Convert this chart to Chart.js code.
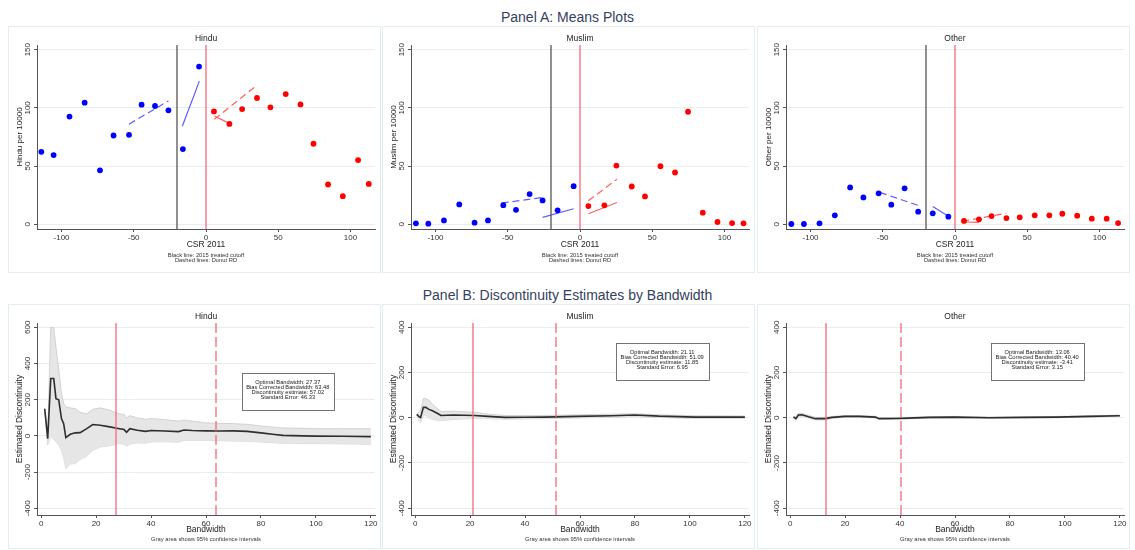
<!DOCTYPE html>
<html><head><meta charset="utf-8">
<script src="https://cdn.jsdelivr.net/npm/chart.js@4.4.1/dist/chart.umd.min.js"></script>
<style>
body{margin:0;background:#fff;width:1135px;height:550px;position:relative;overflow:hidden;font-family:"Liberation Sans",Arial,Helvetica,sans-serif;}
.ptitle{position:absolute;left:0;width:1135px;text-align:center;font-size:14px;line-height:16px;color:#34415e;}
.box{position:absolute;border:1px solid #e4edef;box-sizing:border-box;}
canvas{position:absolute;}
</style></head><body>
<div class="ptitle" style="top:9px">Panel A: Means Plots</div>
<div class="ptitle" style="top:287px">Panel B: Discontinuity Estimates by Bandwidth</div>
<div id="wrap"></div>
<script>
// ---------- DATA ----------
const groups = ['Hindu', 'Muslim', 'Other'];
const meansTicksX = [-100, -50, 0, 50, 100];
const meansTicksY = [0, 50, 100, 150];
const bwTicksX = [0, 20, 40, 60, 80, 100, 120];
const hinduBwTicksY = [-400, -200, 0, 200, 400, 600];
const otherBwTicksY = [-400, -200, 0, 200, 400];
const cutoffs2015 = [-20];
const cutoffs2011 = [0];

// Panel A: binned means (left of cutoff = blue, right = red)
const hinduBinsL  = [-114, -105.5, -94.5, -84, -73.4, -64, -53.3, -44.6, -35.3, -26, -16, -4.8];
const hinduMeansL = [62.3, 59.5, 92.5, 104.5, 46.4, 76.3, 76.9, 102.8, 101.6, 97.9, 64.6, 135.5];
const hinduBinsR  = [5.5, 16.2, 25, 35.3, 44.6, 55.2, 65.4, 74.4, 84.5, 94.7, 105.3, 112.7];
const hinduMeansR = [97, 86.2, 99, 108.5, 100.5, 111.9, 103, 69.2, 34.2, 24.2, 55.2, 34.7];

const muslimBinsL  = [-113.6, -105, -94.2, -83.6, -73, -63.7, -53.1, -44.3, -34.9, -25.9, -15.5, -4.4];
const muslimMeansL = [0.9, 0.6, 3.4, 17.1, 1.4, 3.4, 16.5, 12.5, 26, 20.5, 12, 32.8];
const muslimBinsR  = [5.8, 16.9, 25.2, 35.8, 45, 55.7, 65.8, 74.8, 85, 95.2, 105.3, 113.2];
const muslimMeansR = [15.7, 16.3, 50.5, 32.5, 24, 49.9, 44.5, 96.7, 10, 2, 1.1, 0.9];

const otherBinsL  = [-113.3, -104.6, -93.8, -83.2, -72.6, -63.4, -52.9, -44.1, -34.9, -25.5, -15.4, -4.6];
const otherMeansL = [0.3, 0.3, 0.9, 7.7, 31.7, 23.1, 26.6, 16.9, 30.9, 10.9, 9.5, 6.6];
const otherBinsR  = [6.2, 16.6, 25.3, 35.6, 44.8, 55.2, 65.3, 74.3, 84.6, 94.7, 105, 112.9];
const otherMeansR = [2.9, 4.3, 7.1, 5.4, 6, 7.7, 7.7, 9.1, 7.4, 4.9, 4.9, 1.1];

// Panel A fitted lines: [blue dashed (donut), blue solid, red solid, red dashed (donut)]
const hinduFitX  = [[-53.3, -26], [-16.4, -4.6], [5.8, 16.5], [5.8, 35.3]];
const hinduFitY  = [[86, 106], [84.3, 123], [93, 86.5], [90.2, 119.5]];
const muslimFitX = [[-54.3, -25.9], [-25.9, -4.4], [5.8, 25.6], [5.8, 25.6]];
const muslimFitY = [[18.2, 23.1], [6, 13.4], [9.1, 18.8], [20.2, 38.8]];
const otherFitX  = [[-52, -25.5], [-15.4, -4.6], [6.2, 16.6], [5, 35.4]];
const otherFitY  = [[27.4, 16.3], [15.4, 6.9], [2, 1.7], [2.6, 9.4]];

// Panel B: estimates by bandwidth with 95% CI
const hinduBw  = [1.3, 2.4, 3.5, 4.6, 5.4, 6.4, 7.4, 8.2, 9.0, 10.6, 12.4, 14.2, 16.6, 18.8, 21.5, 25, 28, 30.2, 31.1, 32.3, 35, 38, 40, 45, 50, 52, 55, 60, 65, 70, 75, 80, 85, 88, 95, 100, 110, 120];
const hinduEst = [150, -15, 317, 317, 206, 200, 96, 68, -9, 9, 17, 18, 40, 63, 59, 50, 41, 35, 20, 40, 31, 25, 30, 27, 24, 33, 30, 28, 27, 28, 25, 17, 8, 3, 0, -1, -2, -4];
const hinduHi  = [150, 20, 600, 600, 490, 372, 234, 180, 160, 155, 151, 130, 123, 147, 155, 142, 124, 118, 100, 112, 100, 92, 96, 90, 82, 88, 82, 72, 70, 68, 64, 55, 48, 44, 42, 40, 40, 40];
const hinduLo  = [150, -50, 0, -20, -30, -50, -80, -120, -180, -155, -153, -130, -112, -80, -61, -55, -42, -46, -57, -45, -38, -40, -33, -32, -35, -24, -24, -24, -26, -28, -30, -33, -38, -40, -42, -42, -44, -46];

const muslimBw  = [0.6, 1.5, 2, 3, 3.9, 5, 6.3, 8.2, 9.4, 14, 21.6, 26.5, 32.6, 40, 47, 59, 71.6, 80, 88.7, 102, 120];
const muslimEst = [15, 4, 1, 46, 46, 37, 31, 19, 10, 12, 10, 6, 1.5, 2, 3, 6, 9, 12, 7, 3, 3];
const muslimHi  = [15, 25, 30, 85, 85, 78, 60, 40, 28, 29, 24, 16, 10, 10, 10, 13, 16, 18, 13, 9, 8];
const muslimLo  = [15, -15, -20, 10, 12, 0, -8, -12, -13, -7, -3, -4, -6, -5, -4, -1, 2, 6, 1, -3, -2];

const otherBw  = [1.2, 2.1, 3, 4.3, 6.7, 9.2, 12.8, 15.3, 20, 25, 31, 32.4, 38.5, 43, 50.7, 60, 72.6, 85, 97, 109, 120];
const otherEst = [4, -4, 12, 13, 4, -4, -4, 1.5, 6, 6, 3, -4, -3, -1.5, 1.5, 3, 0, 1.5, 3, 6, 9];
const otherHi  = [4, 4, 20, 20, 10, 2, 2, 6, 10, 10, 7, 0, 1, 2, 5, 6, 3, 4, 6, 9, 12];
const otherLo  = [4, -12, 4, 6, -2, -10, -10, -3, 2, 2, -1, -8, -7, -5, -2, 0, -3, -1, 0, 3, 6];

// RD statistics: [optimal bw, bias corrected bw, estimate, s.e.]
const hinduRD  = [27.37, 63.48, 57.02, 46.33];
const muslimRD = [21.11, 51.09, 11.85, 6.95];
const otherRD  = [13.06, 40.40, -3.41, 3.15];

// ---------- RENDERING ----------
const FONT = "'Liberation Sans', Arial, Helvetica, sans-serif";
Chart.defaults.font.family = FONT;
Chart.defaults.color = '#333';
const RED_LINE = '#f5687a';
const AXIS = '#555';

const colLeft = [8, 382, 757];
const COLW = 373;
const rows = [{top: 26, h: 247, xH: 44}, {top: 304, h: 245, xH: 34}];

const pts = (xs, ys) => xs.map((x, i) => ({x, y: ys[i]}));

function makeCanvas(col, row) {
  const r = rows[row];
  const box = document.createElement('div');
  box.className = 'box';
  box.style.left = colLeft[col] + 'px'; box.style.top = r.top + 'px';
  box.style.width = COLW + 'px'; box.style.height = r.h + 'px';
  document.body.appendChild(box);
  const c = document.createElement('canvas');
  c.width = COLW; c.height = r.h;
  c.style.left = colLeft[col] + 'px'; c.style.top = r.top + 'px';
  c.style.width = COLW + 'px'; c.style.height = r.h + 'px';
  document.body.appendChild(c);
  return c;
}

function decorPlugin(cfg) {
  return {
    id: 'decor',
    afterDatasetsDraw(chart) {
      const {ctx, chartArea: ca, scales: {x}} = chart;
      cfg.vlines.forEach(v => {
        const px = Math.round(x.getPixelForValue(v.x));
        ctx.save();
        ctx.strokeStyle = v.color; ctx.lineWidth = v.w || 1.3;
        ctx.setLineDash(v.dash || []);
        ctx.beginPath(); ctx.moveTo(px, ca.top); ctx.lineTo(px, ca.bottom); ctx.stroke();
        ctx.restore();
      });
    },
    afterDraw(chart) {
      const {ctx, chartArea: ca, scales: {x, y}} = chart;
      ctx.save();
      // subplot title
      ctx.fillStyle = '#222'; ctx.textAlign = 'center'; ctx.textBaseline = 'middle';
      ctx.font = '8.5px ' + FONT;
      ctx.fillText(cfg.title, (ca.left + ca.right) / 2, 13);
      // rotated y tick labels (Stata style)
      ctx.font = '8px ' + FONT; ctx.fillStyle = '#333';
      y.ticks.forEach(t => {
        const py = y.getPixelForValue(t.value);
        ctx.save(); ctx.translate(ca.left - 9, py); ctx.rotate(-Math.PI / 2);
        ctx.fillText(String(t.value), 0, 0); ctx.restore();
      });
      // notes
      ctx.font = '5.8px ' + FONT; ctx.fillStyle = '#333';
      cfg.notes.forEach((n, i) => ctx.fillText(n, (ca.left + ca.right) / 2, cfg.noteY[i]));
      // statistics box
      if (cfg.box) {
        const b = cfg.box;
        const l = x.getPixelForValue(b.x0), r = x.getPixelForValue(b.x1);
        const t = y.getPixelForValue(b.y0), btm = y.getPixelForValue(b.y1);
        ctx.fillStyle = '#fff'; ctx.fillRect(l, t, r - l, btm - t);
        ctx.strokeStyle = '#666'; ctx.lineWidth = 0.9;
        ctx.strokeRect(Math.round(l) + 0.5, Math.round(t) + 0.5, Math.round(r - l), Math.round(btm - t));
        ctx.fillStyle = '#222'; ctx.font = '5.7px ' + FONT;
        b.lines.forEach((s, i) => ctx.fillText(s, (l + r) / 2, t + 10 + i * 4.9));
      }
      ctx.restore();
    }
  };
}

function scales(o) {
  return {
    x: {
      type: 'linear', min: o.xMin, max: o.xMax,
      afterBuildTicks: s => { s.ticks = o.xTicks.map(v => ({value: v})); },
      afterFit: s => { s.height = o.xH; },
      ticks: {font: {size: 8}, color: '#333', padding: 1, maxRotation: 0, autoSkip: false},
      grid: {drawOnChartArea: false, drawTicks: true, tickLength: 3, tickColor: AXIS, color: AXIS},
      border: {display: true, color: AXIS, width: 1},
      title: {display: true, text: o.xTitle, font: {size: 8.5}, color: '#222', padding: {top: 0, bottom: o.xTitlePad}}
    },
    y: {
      type: 'linear', min: o.yMin, max: o.yMax,
      afterBuildTicks: s => { s.ticks = o.yTicks.map(v => ({value: v})); },
      afterFit: s => { s.width = 29; },
      ticks: {display: false},
      grid: {color: '#e5eef0', lineWidth: 1, drawTicks: true, tickLength: 3, tickColor: AXIS},
      border: {display: true, color: AXIS, width: 1},
      title: {display: true, text: o.yTitle, font: {size: 8}, color: '#222', padding: {top: 7, bottom: 0}}
    }
  };
}

function baseOptions(sc) {
  return {
    responsive: false, animation: false, devicePixelRatio: 1,
    layout: {padding: {left: 0, right: 6, top: 19, bottom: 0}},
    plugins: {legend: {display: false}, tooltip: {enabled: false}, title: {display: false}},
    scales: sc
  };
}

function meansChart(col, name, bL, mL, bR, mR, fx, fy) {
  const c = makeCanvas(col, 0);
  const fitStyle = [
    {c: '#5c5cff', d: [7, 4]}, {c: '#5c5cff', d: []},
    {c: '#ff5f5f', d: []}, {c: '#ff5f5f', d: [7, 4]}
  ];
  const ds = [
    {data: pts(bL, mL), backgroundColor: '#0000ff', borderColor: '#0000ff', pointRadius: 2.9, pointBorderWidth: 0, showLine: false},
    {data: pts(bR, mR), backgroundColor: '#ff0000', borderColor: '#ff0000', pointRadius: 2.9, pointBorderWidth: 0, showLine: false}
  ];
  fx.forEach((xs, i) => ds.push({
    data: pts(xs, fy[i]), showLine: true, pointRadius: 0, borderColor: fitStyle[i].c,
    borderDash: fitStyle[i].d, borderWidth: 1.2, fill: false
  }));
  new Chart(c, {
    type: 'scatter',
    data: {datasets: ds},
    options: baseOptions(scales({xMin: -117, xMax: 117, xTicks: meansTicksX, xH: 44, xTitle: 'CSR 2011', xTitlePad: 23,
      yMin: -4, yMax: 154, yTicks: meansTicksY, yTitle: name + ' per 10000'})),
    plugins: [decorPlugin({
      title: name,
      vlines: [{x: cutoffs2015[0], color: '#555555', w: 1.3}, {x: cutoffs2011[0], color: RED_LINE, w: 1.3}],
      notes: ['Black line: 2015 treated cutoff', 'Dashed lines: Donut RD'], noteY: [229, 234.5]
    })]
  });
}

function bwChart(col, name, bw, est, lo, hi, rd, yTicks, yMin, yMax, box) {
  const c = makeCanvas(col, 1);
  const ds = [
    {data: pts(bw, est), showLine: true, pointRadius: 0, borderColor: '#2e2e2e', borderWidth: 1.6, fill: false},
    {data: pts(bw, hi), showLine: true, pointRadius: 0, borderColor: '#c4c4c4', borderWidth: 0.7, backgroundColor: '#e6e6e6', fill: '+1'},
    {data: pts(bw, lo), showLine: true, pointRadius: 0, borderColor: '#c4c4c4', borderWidth: 0.7, fill: false}
  ];
  const sc = scales({xMin: -1.5, xMax: 121.5, xTicks: bwTicksX, xH: 34, xTitle: 'Bandwidth', xTitlePad: 14,
    yMin, yMax, yTicks, yTitle: 'Estimated Discontinuity'});
  sc.y.title.font = {size: 8.5};
  new Chart(c, {
    type: 'scatter',
    data: {datasets: ds},
    options: baseOptions(sc),
    plugins: [decorPlugin({
      title: name,
      vlines: [{x: rd[0], color: RED_LINE, w: 1.3}, {x: rd[1], color: RED_LINE, w: 1.3, dash: [10, 4]}],
      notes: ['Gray area shows 95% confidence intervals'], noteY: [235],
      box: Object.assign({}, box, {lines: [
        'Optimal Bandwidth: ' + rd[0].toFixed(2),
        'Bias Corrected Bandwidth: ' + rd[1].toFixed(2),
        'Discontinuity estimate: ' + rd[2].toFixed(2),
        'Standard Error: ' + rd[3].toFixed(2)
      ]})
    })]
  });
}

meansChart(0, groups[0], hinduBinsL, hinduMeansL, hinduBinsR, hinduMeansR, hinduFitX, hinduFitY);
meansChart(1, groups[1], muslimBinsL, muslimMeansL, muslimBinsR, muslimMeansR, muslimFitX, muslimFitY);
meansChart(2, groups[2], otherBinsL, otherMeansL, otherBinsR, otherMeansR, otherFitX, otherFitY);

bwChart(0, groups[0], hinduBw, hinduEst, hinduLo, hinduHi, hinduRD, hinduBwTicksY, -437, 624, {x0: 73, x1: 106.5, y0: 350, y1: 146});
bwChart(1, groups[1], muslimBw, muslimEst, muslimLo, muslimHi, muslimRD, otherBwTicksY, -430, 419, {x0: 73, x1: 106.8, y0: 331, y1: 169});
bwChart(2, groups[2], otherBw, otherEst, otherLo, otherHi, otherRD, otherBwTicksY, -430, 419, {x0: 73, x1: 106.8, y0: 331, y1: 169});
</script>
</body></html>
